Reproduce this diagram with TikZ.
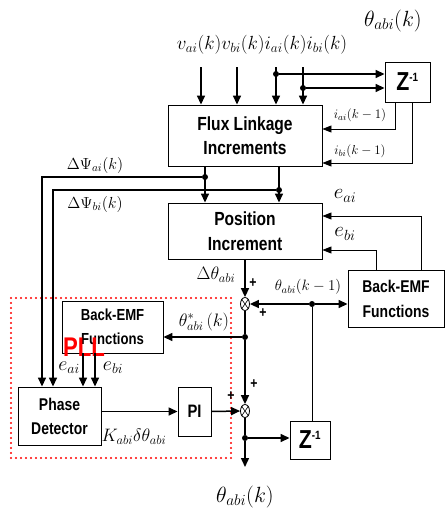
\RequirePackage{fix-cm}
\documentclass[tikz,border=0pt]{standalone}
\usepackage{fontspec}
\setsansfont[FakeStretch=0.82]{Liberation Sans}
\usetikzlibrary{shapes.geometric,arrows.meta,positioning}
\newcommand{\fs}[1]{\fontsize{#1}{#1}\selectfont}

\begin{document}
\begin{tikzpicture}[x=1pt, y=-1pt,
    blk/.style={rectangle, draw, line width=0.9pt, align=center, inner sep=0pt,
                font=\sffamily\bfseries},
    arr/.style={-{Triangle[length=9pt,width=8pt]}, line width=1.5pt},
    tarr/.style={-{Triangle[length=9pt,width=7pt]}, line width=0.9pt},
    wire/.style={line width=1.5pt},
    sumj/.style={ellipse, draw, line width=0.8pt, minimum width=9pt,
                 minimum height=13pt, inner sep=0pt},
    dot/.style={circle, fill, inner sep=0pt, minimum size=6pt},
    plus/.style={font=\sffamily\bfseries\fs{15}, inner sep=0pt}]
    \useasboundingbox (0,0) rectangle (445,515);

    % blocks
    \node[blk, minimum width=154pt, minimum height=61pt, font=\sffamily\bfseries\fontsize{19}{24}\selectfont]
        (flux) at (245,135.5) {Flux Linkage\\Increments};
    \node[blk, minimum width=45pt, minimum height=40pt, font=\sffamily\bfseries\fs{26}]
        (ztop) at (407.5,82) {Z\textsuperscript{\fs{12}-1}};
    \node[blk, minimum width=154pt, minimum height=56pt, font=\sffamily\bfseries\fontsize{19}{25}\selectfont]
        (pos) at (245,231) {Position\\Increment};
    \node[blk, minimum width=96pt, minimum height=57pt, font=\sffamily\bfseries\fontsize{17}{25}\selectfont]
        (bemfr) at (396,298.5) {Back-EMF\\Functions};
    \node[blk, minimum width=101pt, minimum height=52pt, font=\sffamily\bfseries\fontsize{16}{24}\selectfont]
        (bemfl) at (112.5,327) {Back-EMF\\Functions};
    \node[blk, minimum width=83pt, minimum height=58pt, font=\sffamily\bfseries\fontsize{17}{24}\selectfont]
        (pd) at (59.5,416) {Phase\\Detector};
    \node[blk, minimum width=33pt, minimum height=49pt, font=\sffamily\bfseries\fs{18}]
        (pi) at (194.5,411.5) {PI};
    \node[blk, minimum width=40pt, minimum height=38pt, font=\sffamily\bfseries\fs{26}]
        (zbot) at (310,440) {Z\textsuperscript{\fs{12}-1}};
    \node[sumj] (sum1) at (245,304) {};
    \draw[line width=0.6pt] (sum1.north west) -- (sum1.south east) (sum1.north east) -- (sum1.south west);
    \node[sumj] (sum2) at (245,411) {};
    \draw[line width=0.6pt] (sum2.north west) -- (sum2.south east) (sum2.north east) -- (sum2.south west);

    % PLL frame
    \draw[red, line width=2.2pt, line cap=round, dash pattern=on 0pt off 5pt]
        (11,298) rectangle (231,458);
    \node[red, font=\sffamily\bfseries\fs{27}] (pll) at (84,347) {PLL};

    % inputs
    \node[font=\fs{19}] (inlbl) at (262,45) {$v_{ai}(k)v_{bi}(k)i_{ai}(k)i_{bi}(k)$};
    \coordinate (va) at (201,67);
    \coordinate (vb) at (237,67);
    \coordinate (ia) at (276,67);
    \coordinate (ib) at (303,67);
    \draw[arr] (va) -- (va |- flux.north);
    \draw[arr] (vb) -- (vb |- flux.north);
    \draw[arr] (ia) -- (ia |- flux.north);
    \draw[arr] (ib) -- (ib |- flux.north);
    \node[dot] (dia) at (276,74) {};
    \node[dot] (dib) at (303,88) {};
    \draw[arr] (dia) -- (dia -| ztop.west);
    \draw[arr] (dib) -- (dib -| ztop.west);
    \draw[tarr] ([xshift=-12.5pt]ztop.south) |- ([yshift=6.5pt]flux.east);
    \draw[tarr] ([xshift=4.5pt]ztop.south) |- ([yshift=-27.5pt]flux.east);
    \node[font=\fs{13}] (lia) at (360,115) {$i_{ai}(k-1)$};
    \node[font=\fs{13}] (lib) at (360,151) {$i_{bi}(k-1)$};

    % flux increments
    \node[dot] (dpa) at (205,177) {};
    \node[dot] (dpb) at (279,190) {};
    \draw[arr] ([xshift=-40pt]flux.south) -- ([xshift=-40pt]pos.north);
    \draw[arr] ([xshift=34pt]flux.south) -- ([xshift=34pt]pos.north);
    \draw[arr] (dpa) -| ([xshift=-17.5pt]pd.north);
    \draw[arr] (dpb) -| ([xshift=-6.5pt]pd.north);
    \node[font=\fs{16}] (lpa) at (95,165) {$\Delta\Psi_{ai}(k)$};
    \node[font=\fs{16}] (lpb) at (95,204) {$\Delta\Psi_{bi}(k)$};

    % back-EMF to position increment
    \draw[tarr] ([xshift=25pt]bemfr.north) |- ([yshift=15pt]pos.east);
    \draw[tarr] ([xshift=-20pt]bemfr.north) |- ([yshift=-19pt]pos.east);
    \node[font=\fs{21}] (lea) at (345,196) {$e_{ai}$};
    \node[font=\fs{21}] (leb) at (345,234) {$e_{bi}$};

    % position loop
    \draw[arr] (pos.south) -- (sum1.north);
    \node[font=\fs{18}] (ldt) at (216,275) {$\Delta\theta_{abi}$};
    \node[plus] (p1) at (253,283) {+};
    \node[plus] (p2) at (263,313) {+};
    \node[dot] (dk) at (312,304) {};
    \draw[arr] (dk) -- (sum1.east);
    \draw[arr] (dk) -- (dk -| bemfr.west);
    \draw[line width=0.9pt] (dk) -- (dk |- zbot.north);
    \node[font=\fs{15}] (ltk) at (308,287) {$\theta_{abi}(k-1)$};
    \node[dot] (dt) at (245,337) {};
    \draw[wire] (sum1.south) -- (dt);
    \draw[arr] (dt) -- (dt -| bemfl.east);
    \node[font=\fs{18}] (lts) at (204,322) {$\theta^{*}_{abi}\,(k)$};
    \draw[arr] (dt) -- (sum2.north);
    \node[plus] (p3) at (254,384) {+};
    \node[plus] (p4) at (231,396) {+};

    % PLL inner
    \draw[arr] ([xshift=-29.5pt]bemfl.south) -- ([xshift=-29.5pt]bemfl.south |- pd.north);
    \draw[arr] ([xshift=-17.5pt]bemfl.south) -- ([xshift=-17.5pt]bemfl.south |- pd.north);
    \node[font=\fs{20}] (lpea) at (69,368) {$e_{ai}$};
    \node[font=\fs{20}] (lpeb) at (113,368) {$e_{bi}$};
    \draw[arr] (pd.east |- pi.west) -- (pi.west);
    \node[font=\fs{18}] (lk) at (134,437) {$K_{abi}\delta\theta_{abi}$};
    \draw[arr] (pi.east) -- (sum2.west);

    % output
    \node[dot] (dz) at (245,438) {};
    \coordinate (out) at (245,467);
    \draw[wire] (sum2.south) -- (dz);
    \draw[arr] (dz) -- (out);
    \draw[arr] (dz) -- (dz -| zbot.west);
    \node[font=\fs{22}] (ltop) at (393,21) {$\theta_{abi}(k)$};
    \node[font=\fs{22}] (lbot) at (245,497) {$\theta_{abi}(k)$};
\end{tikzpicture}
\end{document}
